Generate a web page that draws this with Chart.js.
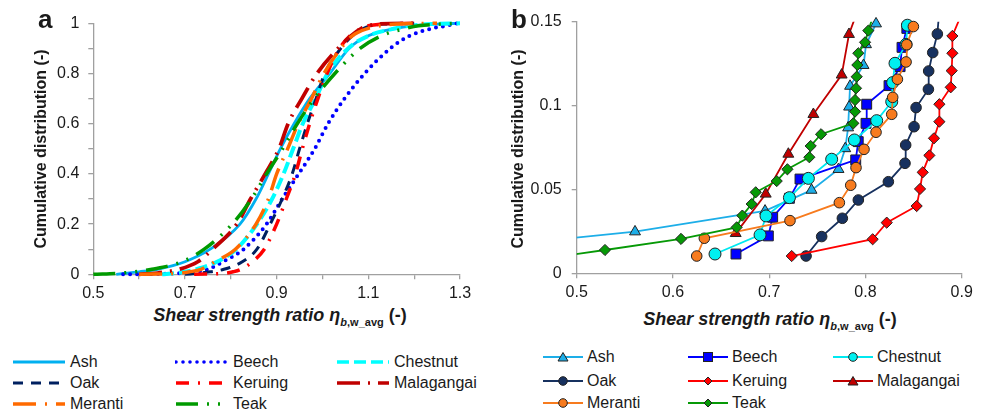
<!DOCTYPE html>
<html><head><meta charset="utf-8">
<script src="https://cdn.jsdelivr.net/npm/chart.js@4.4.1/dist/chart.umd.min.js"></script>
<style>
html,body{margin:0;padding:0;background:#fff;}
body{width:983px;height:416px;position:relative;overflow:hidden;font-family:"Liberation Sans",Arial,sans-serif;color:#1a1a1a;}
.abs{position:absolute;}
.ytitle{position:absolute;width:300px;height:16px;line-height:16px;font-size:16px;font-weight:bold;text-align:center;transform:rotate(-90deg);white-space:nowrap;}
.xtitle{position:absolute;width:400px;height:18px;line-height:18px;font-size:18px;font-weight:bold;text-align:center;white-space:nowrap;}
.xtitle i{font-style:italic;}
.xtitle .sub{font-size:11px;position:relative;top:5px;}
.plabel{position:absolute;font-size:26px;font-weight:bold;line-height:26px;height:26px;}
.leg{position:absolute;height:20px;line-height:20px;font-size:16px;display:flex;align-items:center;white-space:nowrap;}
.leg svg{display:block;}
</style></head>
<body>
<canvas id="cA" width="490" height="300" class="abs" style="left:0;top:0"></canvas>
<canvas id="cB" width="493" height="300" class="abs" style="left:490px;top:0"></canvas>
<div class="plabel" style="left:38px;top:6px">a</div>
<div class="plabel" style="left:511px;top:6px">b</div>
<div class="ytitle" style="left:-109px;top:141px">Cumulative distribution (-)</div>
<div class="ytitle" style="left:367.6px;top:140.5px">Cumulative distribution (-)</div>
<div class="xtitle" style="left:80px;top:306px"><i>Shear strength ratio η<span class="sub">b</span></i><span class="sub">,w_avg</span> (-)</div>
<div class="xtitle" style="left:570px;top:310px"><i>Shear strength ratio η<span class="sub">b</span></i><span class="sub">,w_avg</span> (-)</div>
<div id="legA"></div><div id="legB"></div>
<script>
// ---------- data ----------
const species = ['Ash','Beech','Chestnut','Oak','Keruing','Malagangai','Meranti','Teak'];

// Panel a: cumulative levels and the shear strength ratio read at each level
const cdfLevels = [0,0.005,0.01,0.02,0.05,0.1,0.2,0.3,0.4,0.5,0.6,0.7,0.8,0.9,0.95,0.98,0.99,0.997,1];
const ashA        = [0.55,0.575,0.6,0.64,0.70,0.755,0.82,0.855,0.882,0.908,0.938,0.972,1.016,1.058,1.10,1.16,1.195,1.25,1.3];
const beechA      = [0.565,0.70,0.725,0.75,0.783,0.828,0.878,0.912,0.948,0.983,1.012,1.048,1.092,1.148,1.19,1.24,1.27,1.285,1.3];
const chestnutA   = [0.65,0.68,0.70,0.725,0.77,0.812,0.857,0.89,0.915,0.936,0.957,0.985,1.011,1.056,1.10,1.16,1.19,1.24,1.3];
const oakA        = [0.70,0.735,0.755,0.785,0.825,0.857,0.886,0.912,0.934,0.95,0.967,0.986,1.005,1.04,1.065,1.09,1.105,1.135,1.2];
const keruingA    = [0.72,0.79,0.805,0.822,0.847,0.873,0.9,0.921,0.941,0.956,0.972,0.99,1.01,1.037,1.06,1.085,1.10,1.13,1.2];
const malagangaiA = [0.60,0.64,0.66,0.688,0.728,0.76,0.813,0.843,0.875,0.905,0.925,0.955,0.988,1.034,1.062,1.085,1.10,1.12,1.2];
const merantiA    = [0.60,0.69,0.71,0.735,0.765,0.81,0.855,0.882,0.90,0.924,0.947,0.976,1.003,1.04,1.065,1.10,1.125,1.16,1.25];
const teakA       = [0.50,0.56,0.59,0.628,0.693,0.742,0.803,0.845,0.878,0.913,0.945,0.982,1.027,1.082,1.128,1.183,1.21,1.26,1.3];

// Panel b: lowest observations (ratio, cumulative distribution)
const ashBx = [0.346,0.5606,0.6957,0.744,0.772,0.779,0.782,0.783,0.784,0.798,0.8006,0.811,0.815];
const ashBy = [0.0124,0.0248,0.0372,0.0496,0.062,0.0744,0.0868,0.0992,0.1116,0.124,0.1364,0.1488,0.1612];
const beechBx = [0.6655,0.6991,0.7036,0.721,0.732,0.7899,0.7925,0.8006,0.8013,0.8245,0.836,0.838,0.843,0.847];
const beechBy = [0.0115,0.0223,0.0334,0.0447,0.0562,0.0676,0.0785,0.0894,0.1008,0.1119,0.1232,0.1347,0.146,0.1573];
const chestnutBx = [0.6437,0.6905,0.6967,0.721,0.7407,0.7649,0.7885,0.8117,0.8273,0.8283,0.8307,0.8422,0.8436,0.849];
const chestnutBy = [0.0115,0.0229,0.0342,0.0451,0.0566,0.068,0.0795,0.091,0.1023,0.1137,0.1252,0.1365,0.1479,0.1593];
const oakBx = [0.7383,0.7545,0.776,0.7926,0.8238,0.8411,0.8418,0.8505,0.8526,0.8654,0.8657,0.8699,0.8747,0.8763];
const oakBy = [0.0103,0.0219,0.0328,0.0437,0.0546,0.0656,0.0765,0.0874,0.0988,0.1097,0.1206,0.1316,0.1427,0.1536];
const keruingBx = [0.7234,0.8075,0.8221,0.8532,0.8567,0.8595,0.8664,0.8712,0.8768,0.8768,0.8886,0.8896,0.8903,0.8903,0.8977];
const keruingBy = [0.0103,0.0203,0.0302,0.0401,0.0503,0.0602,0.0703,0.0805,0.0904,0.1008,0.1109,0.1208,0.1312,0.1415,0.1516];
const malagangaiBx = [0.6652,0.6964,0.7199,0.7459,0.7753,0.7829,0.798];
const malagangaiBy = [0.0238,0.0473,0.0711,0.0948,0.1183,0.1425,0.1662];
const merantiBx = [0.6247,0.6326,0.7216,0.7729,0.7847,0.7902,0.7985,0.811,0.8273,0.8283,0.8332,0.8422,0.8429,0.8498,0.853];
const merantiBy = [0.0103,0.0209,0.0314,0.0421,0.0525,0.063,0.0739,0.0841,0.0948,0.1049,0.1157,0.126,0.1363,0.1471,0.1576];
const teakBx = [0.444,0.5294,0.6084,0.6662,0.6721,0.6818,0.686,0.7078,0.7189,0.7417,0.7431,0.7539,0.7874,0.7892,0.7892,0.7902,0.7909,0.7916,0.7926,0.7996,0.803,0.807];
const teakBy = [0.0069,0.0139,0.0205,0.0274,0.0344,0.0413,0.0483,0.055,0.062,0.0692,0.0759,0.0829,0.0894,0.0964,0.1033,0.1103,0.1172,0.1242,0.1312,0.1377,0.1447,0.1516];

// tick labels
const xTickLabelsA = ['0.5','0.7','0.9','1.1','1.3'];
const yTickLabelsA = ['0','0.2','0.4','0.6','0.8','1'];
const xTickLabelsB = ['0.5','0.6','0.7','0.8','0.9'];
const yTickLabelsB = ['0','0.05','0.1','0.15'];

// ---------- styles ----------
const seriesA = [ashA,beechA,chestnutA,oakA,keruingA,malagangaiA,merantiA,teakA];
const seriesBx = [ashBx,beechBx,chestnutBx,oakBx,keruingBx,malagangaiBx,merantiBx,teakBx];
const seriesBy = [ashBy,beechBy,chestnutBy,oakBy,keruingBy,malagangaiBy,merantiBy,teakBy];
const colA = ['#00B0F0','#0000FF','#00FFFF','#002060','#FF0000','#C00000','#FF6A00','#009A00'];
const dashA = [[],[0,7],[12,5],[10,8],[13,9,2,9],[23,8,2,8],[23,9,2,9],[22,9,2,9,2,9]];
const widthA = [2.8,4,4,3,3.5,3.8,3.5,3.5];
const capA = ['butt','round','butt','butt','butt','butt','butt','butt'];
const colB = ['#1DAEE8','#0000FF','#00F0F0','#17315F','#FF0000','#C00000','#F77B1E','#069906'];
const lineB = ['#1DAEE8','#0000FF','#00E8F0','#17315F','#FF0000','#C00000','#F77B1E','#069906'];
const markB = ['triangle','rect','circle','circle','rectRot','triangle','circle','rectRot'];
const radB = [6.3,7,6,5.3,5.6,6.3,5.3,5.6];

Chart.defaults.font.family = '"Liberation Sans", Arial, sans-serif';
Chart.defaults.color = '#1a1a1a';
const AX = '#A0A0A0';

function fmt(v){ return String(Number(v.toFixed(3))); }
function scaleOpt(min,max,step,labels,isX,size,pad){
  return {
    type:'linear', min:min, max:max,
    border:{display:true,color:AX,width:1.3},
    grid:{display:true,drawOnChartArea:false,drawTicks:true,tickLength:5,color:AX,lineWidth:1.3},
    ticks:{stepSize:step,autoSkip:false,maxRotation:0,padding:pad,font:{size:16},color:'#1a1a1a',
      callback:(v)=>{const s=fmt(v);return labels.includes(s)?s:'';}},
    afterFit:(s)=>{ if(isX) s.height=size; else s.width=size; }
  };
}

// ---------- panel a ----------
const dsA = species.map((n,i)=>({
  label:n,
  data: cdfLevels.map((c,k)=>({x:seriesA[i][k], y:c})),
  borderColor:colA[i], borderWidth:widthA[i], borderDash:dashA[i], borderCapStyle:capA[i],
  pointRadius:0, cubicInterpolationMode:'monotone', fill:false, clip:false, order:7-i
}));
new Chart(document.getElementById('cA'),{
  type:'line',
  data:{datasets:dsA},
  options:{
    responsive:false, animation:false, events:[],
    layout:{padding:{left:0,top:23.3,right:30,bottom:0}},
    plugins:{legend:{display:false},tooltip:{enabled:false}},
    scales:{
      x:scaleOpt(0.5,1.3,0.1,xTickLabelsA,true,25.7,5),
      y:scaleOpt(0,1,0.1,yTickLabelsA,false,93.3,9)
    }
  }
});

// ---------- panel b ----------
const dsB = [];
species.forEach((n,i)=>{
  const pts = seriesBx[i].map((x,k)=>({x:x,y:seriesBy[i][k]}));
  dsB.push({label:n+' line',data:pts,borderColor:lineB[i],borderWidth:1.8,pointRadius:0,fill:false,tension:0,order:2*(7-i)+1});
  dsB.push({label:n,data:pts,showLine:false,pointStyle:markB[i],backgroundColor:colB[i],borderColor:'#222',borderWidth:1,
    pointRadius:(ctx)=>{const r=ctx.raw; return (r && r.x>=0.5 && r.y<=0.1505)?radB[i]:0;},clip:false,order:2*(7-i)});
});
new Chart(document.getElementById('cB'),{
  type:'line',
  data:{datasets:dsB},
  options:{
    responsive:false, animation:false, events:[],
    layout:{padding:{left:0,top:21.7,right:21.3,bottom:0}},
    plugins:{legend:{display:false},tooltip:{enabled:false}},
    scales:{
      x:scaleOpt(0.5,0.9,0.1,xTickLabelsB,true,26.7,5),
      y:scaleOpt(0,0.15,0.05,yTickLabelsB,false,86.7,10)
    }
  }
});

// ---------- legends ----------
function svgA(i){
  const d = dashA[i].length? `stroke-dasharray="${dashA[i].join(' ')}"`:'';
  return `<svg width="54" height="12"><line x1="1" y1="6" x2="53" y2="6" stroke="${colA[i]}" stroke-width="${Math.min(widthA[i],3.6)}" ${d} stroke-linecap="${capA[i]}"/></svg>`;
}
function markerSvg(i){
  const c=colB[i], s='#222';
  switch(markB[i]){
    case 'triangle': return `<polygon points="20,2.5 25,11 15,11" fill="${c}" stroke="${s}" stroke-width="1"/>`;
    case 'rect': return `<rect x="15.5" y="2.5" width="9" height="9" fill="${c}" stroke="${s}" stroke-width="1"/>`;
    case 'circle': return `<circle cx="20" cy="7" r="4.3" fill="${c}" stroke="${s}" stroke-width="1"/>`;
    default: return `<polygon points="20,3 24,7 20,11 16,7" fill="${c}" stroke="${s}" stroke-width="1"/>`;
  }
}
function svgB(i){
  return `<svg width="40" height="14"><line x1="0" y1="7" x2="40" y2="7" stroke="${lineB[i]}" stroke-width="2"/>${markerSvg(i)}</svg>`;
}
const legAcols=[12,175,336], legArows=[361.7,383.3,404];
const legBcols=[543,688,833], legBrows=[357.3,380.7,403.3];
let ha='', hb='';
species.forEach((n,i)=>{
  const c=i%3, r=Math.floor(i/3);
  ha += `<div class="leg" style="left:${legAcols[c]}px;top:${legArows[r]-10}px">${svgA(i)}<span style="margin-left:4px">${n}</span></div>`;
  hb += `<div class="leg" style="left:${legBcols[c]}px;top:${legBrows[r]-10}px">${svgB(i)}<span style="margin-left:4px">${n}</span></div>`;
});
document.getElementById('legA').innerHTML=ha;
document.getElementById('legB').innerHTML=hb;
</script>
</body></html>
